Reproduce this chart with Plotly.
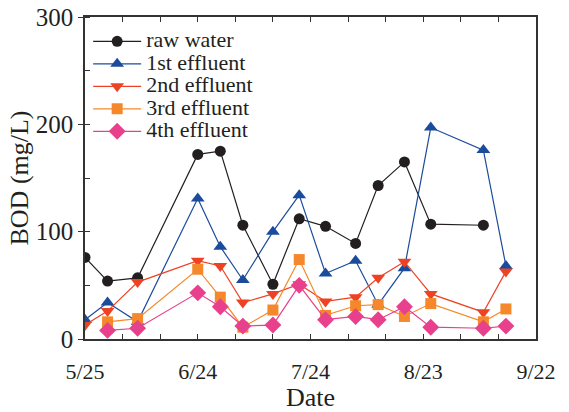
import plotly.graph_objects as go

# ---- data ----
dates_all = ["2010-05-25", "2010-05-31", "2010-06-08", "2010-06-24", "2010-06-30",
             "2010-07-06", "2010-07-14", "2010-07-21", "2010-07-28", "2010-08-05",
             "2010-08-11", "2010-08-18", "2010-08-25", "2010-09-08", "2010-09-14"]

raw_dates = dates_all[:14]
raw_water = [76, 54, 57, 172, 175, 106, 51, 112, 105, 89, 143, 165, 107, 106]

eff1_dates = dates_all
eff1 = [18, 34, 16, 131, 86, 55, 100, 134, 61, 73, 32, 66, 197, 176, 68]

eff2_dates = dates_all
eff2 = [13, 26, 53, 73, 68, 34, 42, 51, 35, 39, 57, 72, 42, 25, 63]

eff3_dates = dates_all[1:]
eff3 = [16, 19, 65, 39, 11, 27, 74, 22, 31, 32, 21, 33, 16, 28]

eff4_dates = dates_all[1:]
eff4 = [8, 10, 43, 30, 12, 13, 50, 18, 21, 18, 30, 11, 10, 12]

series_names = ["raw water", "1st effluent", "2nd effluent", "3rd effluent", "4th effluent"]

x_tick_vals = ["2010-05-25", "2010-06-24", "2010-07-24", "2010-08-23", "2010-09-22"]
x_tick_text = ["5/25", "6/24", "7/24", "8/23", "9/22"]
y_tick_vals = [0, 100, 200, 300]

# ---- styling ----
colors = ["#231f20", "#1b4c9c", "#ee4224", "#f5882a", "#e8408c"]
symbols = ["circle", "triangle-up", "triangle-down", "square", "diamond"]
sizes = [11, 12, 12, 11, 13]
FONT = "Liberation Serif"
TXT = "#231f20"

series = [(raw_dates, raw_water), (eff1_dates, eff1), (eff2_dates, eff2),
          (eff3_dates, eff3), (eff4_dates, eff4)]

fig = go.Figure()
for (xs, ys), name, c, s, sz in zip(series, series_names, colors, symbols, sizes):
    fig.add_trace(go.Scatter(
        x=xs, y=ys, mode="lines+markers",
        name='<span style="font-size:22px">%s</span>' % name,
        line=dict(color=c, width=1.2),
        marker=dict(color=c, symbol=s, size=sz, line=dict(width=0)),
    ))

fig.update_layout(
    width=569, height=412,
    margin=dict(l=85, r=33, t=17, b=73, autoexpand=False),
    paper_bgcolor="white", plot_bgcolor="white",
    font=dict(family=FONT, color=TXT),
    showlegend=True,
    legend=dict(x=0.007, y=0.975, xanchor="left", yanchor="top",
                bgcolor="rgba(0,0,0,0)", font=dict(size=15, family=FONT, color=TXT),
                itemwidth=48, tracegroupgap=0),
    xaxis=dict(
        type="date", range=["2010-05-25", "2010-09-22"], automargin=False,
        tickvals=x_tick_vals, ticktext=x_tick_text,
        ticks="inside", ticklen=5, tickcolor="#333", tickwidth=1,
        tickfont=dict(size=22, family=FONT, color=TXT),
        ticklabelstandoff=12,
        showline=True, linecolor="#333", linewidth=1.5, mirror="ticks",
        showgrid=False, zeroline=False,
        minor=dict(tick0="2010-05-25", dtick=864000000, ticks="inside", ticklen=5,
                   tickcolor="#333", showgrid=False),
        title=dict(text="Date", font=dict(size=26, family=FONT, color=TXT), standoff=6),
    ),
    yaxis=dict(
        range=[0, 300], tickvals=y_tick_vals, automargin=False,
        ticks="outside", ticklen=5, tickcolor="#333", tickwidth=1,
        tickfont=dict(size=25, family=FONT, color=TXT),
        showline=True, linecolor="#333", linewidth=1.5, mirror=True,
        showgrid=False, zeroline=False,
        minor=dict(dtick=50, ticks="inside", ticklen=5, tickcolor="#333", showgrid=False),
        title=dict(text="BOD (mg/L)", font=dict(size=26, family=FONT, color=TXT), standoff=0),
    ),
    yaxis2=dict(
        overlaying="y", side="right", range=[0, 300], dtick=50, automargin=False,
        ticks="inside", ticklen=5, tickcolor="#333", showticklabels=False,
        showline=False, showgrid=False, zeroline=False,
    ),
)

fig.write_html("out.html", config={"displayModeBar": False},
               post_script="document.body.style.margin='0';document.body.style.overflow='hidden';")
